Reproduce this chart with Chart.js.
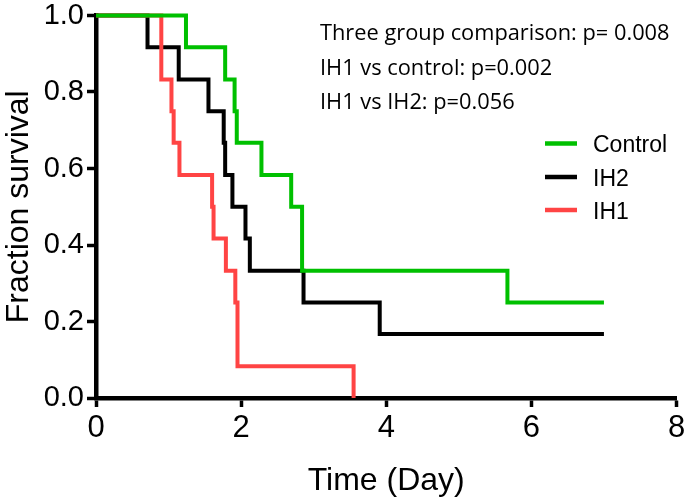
<!DOCTYPE html>
<html>
<head>
<meta charset="utf-8">
<script src="https://cdn.jsdelivr.net/npm/chart.js@4/dist/chart.umd.min.js"></script>
<style>
  html, body { margin: 0; padding: 0; background: #fff; }
  #wrap { width: 685px; height: 500px; position: relative; }
</style>
</head>
<body>
<div id="wrap"><canvas id="c" width="685" height="500"></canvas></div>
<script>
// ---- Data (Kaplan-Meier step curves) ----
const controlTime = [0, 1.24, 1.78, 1.91, 1.94, 2.28, 2.69, 2.84, 5.67, 7.0];
const controlSurv = [1, 0.917, 0.833, 0.75, 0.667, 0.583, 0.5, 0.333, 0.25, 0.25];

const ih2Time = [0, 0.71, 1.14, 1.55, 1.76, 1.78, 1.88, 2.06, 2.12, 2.86, 3.91, 7.0];
const ih2Surv = [1, 0.917, 0.833, 0.75, 0.667, 0.583, 0.5, 0.417, 0.333, 0.25, 0.167, 0.167];

const ih1Time = [0, 0.90, 1.04, 1.07, 1.15, 1.60, 1.62, 1.79, 1.92, 1.95, 3.55];
const ih1Surv = [1, 0.833, 0.75, 0.667, 0.583, 0.5, 0.417, 0.333, 0.25, 0.083, 0];

const groupLabels = ['Control', 'IH2', 'IH1'];
const xTicks = [0, 2, 4, 6, 8];
const yTicks = [0, 0.2, 0.4, 0.6, 0.8, 1.0];
const annotationLines = [
  'Three group comparison: p= 0.008',
  'IH1 vs control: p=0.002',
  'IH1 vs IH2: p=0.056'
];

const COLORS = { Control: '#00c000', IH2: '#000000', IH1: '#ff4444' };

function pts(t, s) { return t.map((x, i) => ({ x: x, y: s[i] })); }

const annotPlugin = {
  id: 'annot',
  afterDraw(chart) {
    const ctx = chart.ctx;
    ctx.save();
    ctx.fillStyle = '#000';
    ctx.font = '21.8px "Open Sans"';
    ctx.textBaseline = 'alphabetic';
    ctx.textAlign = 'left';
    const baseY = [40, 74.5, 108.5];
    annotationLines.forEach((s, i) => ctx.fillText(s, 320, baseY[i]));
    // legend
    const ly = [143.5, 177, 210];
    const tb = [151.5, 185.5, 218.5];
    ctx.font = '23px "Liberation Sans", Arial, sans-serif';
    groupLabels.forEach((lab, i) => {
      ctx.strokeStyle = COLORS[lab];
      ctx.lineWidth = 4.5;
      ctx.beginPath();
      ctx.moveTo(545, ly[i]);
      ctx.lineTo(577, ly[i]);
      ctx.stroke();
      ctx.fillStyle = '#000';
      ctx.fillText(lab, 593, tb[i]);
    });
    ctx.restore();
  }
};

const ds = (label, t, s) => ({
  label: label,
  data: pts(t, s),
  borderColor: COLORS[label],
  backgroundColor: COLORS[label],
  borderWidth: 4,
  stepped: 'before',
  pointRadius: 0,
  fill: false,
  clip: false
});

new Chart(document.getElementById('c'), {
  type: 'line',
  data: {
    datasets: [
      ds('Control', controlTime, controlSurv),
      ds('IH1', ih1Time, ih1Surv),
      ds('IH2', ih2Time, ih2Surv)
    ]
  },
  options: {
    responsive: false,
    animation: false,
    layout: { padding: { top: 15.5, right: 8.5, left: 0, bottom: 0 } },
    plugins: { legend: { display: false }, tooltip: { enabled: false } },
    scales: {
      x: {
        type: 'linear',
        min: 0, max: 8,
        afterBuildTicks(scale) { scale.ticks = xTicks.map(v => ({ value: v })); },
        afterFit(scale) { scale.height = 102; scale.paddingLeft = 0; scale.paddingRight = 0; },
        grid: { drawOnChartArea: false, drawTicks: true, tickLength: 9, tickWidth: 3.5, tickColor: '#000' },
        border: { display: true, color: '#000', width: 4.5 },
        ticks: {
          color: '#000',
          padding: 3,
          font: { family: '"Liberation Sans", Arial, sans-serif', size: 31 },
          maxRotation: 0,
          callback: v => String(v)
        },
        title: {
          display: true,
          text: 'Time (Day)',
          color: '#000',
          font: { family: '"Liberation Sans", Arial, sans-serif', size: 32 },
          padding: { top: 6, bottom: 0 }
        }
      },
      y: {
        type: 'linear',
        min: 0, max: 1,
        afterBuildTicks(scale) { scale.ticks = yTicks.map(v => ({ value: v })); },
        afterFit(scale) { scale.width = 96; scale.paddingTop = 0; scale.paddingBottom = 0; },
        grid: { drawOnChartArea: false, drawTicks: true, tickLength: 9, tickWidth: 3.5, tickColor: '#000' },
        border: { display: true, color: '#000', width: 4.5 },
        ticks: {
          color: '#000',
          padding: 3,
          font: { family: '"Liberation Sans", Arial, sans-serif', size: 29 },
          callback: v => Number(v).toFixed(1)
        },
        title: {
          display: true,
          text: 'Fraction survival',
          color: '#000',
          font: { family: '"Liberation Sans", Arial, sans-serif', size: 32 },
          padding: { top: 0, bottom: 0 }
        }
      }
    }
  },
  plugins: [annotPlugin]
});
</script>
</body>
</html>
